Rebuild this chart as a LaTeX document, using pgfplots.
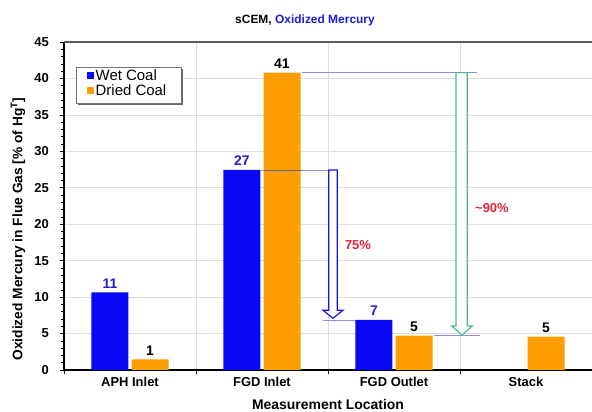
\documentclass[border=0pt]{standalone}
\usepackage{fontspec}
\setmainfont{Liberation Sans}
\usepackage{pgfplots}
\pgfplotsset{compat=1.18}
\definecolor{wetblue}{RGB}{8,8,245}
\definecolor{dryorange}{RGB}{255,158,0}
\definecolor{lblblue}{RGB}{30,30,210}
\definecolor{annred}{RGB}{225,35,55}
\definecolor{arrgreen}{RGB}{70,190,130}
\definecolor{arrblue}{RGB}{20,20,225}
\definecolor{guide}{RGB}{140,140,235}
\definecolor{gridgray}{RGB}{222,222,222}
\begin{document}
\begin{tikzpicture}
\useasboundingbox (0,0) rectangle (592bp,412bp);
\begin{axis}[
  at={(64bp,42bp)}, anchor=south west,
  scale only axis, width=528bp, height=328bp,
  xmin=-0.5, xmax=3.5, ymin=0, ymax=45,
  axis lines*=left,
  axis line style={line width=1.4bp, black},
  /pgf/number format/assume math mode=true,
  xtick={-0.5,0.5,1.5,2.5,3.5}, xticklabels={},
  extra x ticks={0,1,2,3},
  extra x tick labels={APH Inlet,FGD Inlet,FGD Outlet,Stack},
  extra x tick style={grid=none, major tick length=0pt, tick style={draw=none}},
  xmajorgrids, ymajorgrids,
  grid style={gridgray, line width=0.6bp},
  ytick={0,5,...,45}, minor y tick num=4,
  tick align=outside,
  major tick length=4bp, minor tick length=2.5bp,
  tick style={black, line width=0.6bp},
  xticklabel style={font=\bfseries\fontsize{13}{15}\selectfont, anchor=north, yshift=-3.5bp},
  yticklabel style={font=\bfseries\fontsize{13}{15}\selectfont, anchor=east, inner sep=0pt, xshift=-11bp},
  xlabel={Measurement Location},
  xlabel style={font=\bfseries\fontsize{14}{16}\selectfont, at={(axis description cs:0.5,-0.1067)}, anchor=center},
  ylabel={Oxidized Mercury in Flue Gas [\% of Hg\textsuperscript{T}]},
  ylabel style={font=\bfseries\fontsize{13.8}{15}\selectfont, at={(axis description cs:-0.0871,0.43)}, anchor=center},
  legend style={at={(0.0227,0.924)}, anchor=north west, draw=none, fill=none,
    font=\fontsize{15}{17}\selectfont, inner xsep=3bp, inner ysep=1.5bp, row sep=0bp,
    nodes={inner xsep=1.5bp, inner ysep=1.2bp}},
  legend cell align=left,
]
% guide lines
\addplot[guide, line width=0.7bp, forget plot] coordinates {(1.30,40.8) (2.63,40.8)};
\addplot[guide, line width=0.7bp, forget plot] coordinates {(0.99,27.44) (1.568,27.44)};
\addplot[guide, line width=0.7bp, forget plot] coordinates {(1.462,6.86) (1.712,6.86)};
\addplot[guide, line width=0.7bp, forget plot] coordinates {(2.303,4.71) (2.652,4.71)};
% bars
\addplot[ybar, fill=wetblue, draw=none, bar width=0.28, bar shift=-0.152,
  legend image code/.code={\path[draw=none, fill=none] (0bp,-4bp) rectangle (15bp,4bp); \fill[wetblue] (7.5bp,-3.5bp) rectangle (14.5bp,3.5bp);},
  nodes near coords={\pgfmathprintnumber[fixed,precision=0]{\pgfplotspointmeta}},
  every node near coord/.append style={font=\bfseries\fontsize{14}{16}\selectfont, text=lblblue, anchor=south, yshift=0.5bp, xshift=-20bp}]
  coordinates {(0,10.66) (1,27.44) (2,6.86)};
\addlegendentry{Wet Coal}
\addplot[ybar, fill=dryorange, draw=none, bar width=0.28, bar shift=0.152,
  legend image code/.code={\path[draw=none, fill=none] (0bp,-4bp) rectangle (15bp,4bp); \fill[dryorange] (7.5bp,-3.5bp) rectangle (14.5bp,3.5bp);},
  nodes near coords={\pgfmathprintnumber[fixed,precision=0]{\pgfplotspointmeta}},
  every node near coord/.append style={font=\bfseries\fontsize{14}{16}\selectfont, text=black, anchor=south, yshift=0.5bp, xshift=20bp}]
  coordinates {(0,1.47) (1,40.8) (2,4.71) (3,4.57)};
\addlegendentry{Dried Coal}
% guide across dried bar
\addplot[guide!70!black, line width=0.7bp, forget plot] coordinates {(1.012,27.44) (1.292,27.44)};
% block arrows
\addplot[draw=arrblue, fill=white, line width=1.2bp, forget plot] coordinates {
  (1.505,27.44) (1.505,8.2) (1.462,8.2) (1.538,7.1) (1.614,8.2) (1.570,8.2) (1.570,27.44) (1.505,27.44)};
\addplot[draw=arrgreen, fill=white, line width=1.2bp, forget plot] coordinates {
  (2.470,40.8) (2.470,6.04) (2.437,6.04) (2.515,4.8) (2.593,6.04) (2.555,6.04) (2.555,40.8) (2.470,40.8)};
\node[font=\bfseries\fontsize{13}{15}\selectfont, text=annred] at (axis cs:1.727,17.1) {75\%};
\node[font=\bfseries\fontsize{13}{15}\selectfont, text=annred] at (axis cs:2.742,22.2) {\textasciitilde90\%};
% legend frame with shadow
\fill[black!60] ([xshift=2bp,yshift=-2bp]rel axis cs:0.0227,0.9238) rectangle ([xshift=2bp,yshift=-2bp]rel axis cs:0.2216,0.814);
\draw[black!55, line width=0.6bp, fill=white] (rel axis cs:0.0227,0.9238) rectangle (rel axis cs:0.2216,0.814);
\draw[line width=1.5bp, black!65] (rel axis cs:0,1) -- (rel axis cs:1,1);
\end{axis}
\node[font=\bfseries\fontsize{12}{14}\selectfont] at (305bp,392bp) {sCEM, \textcolor{lblblue}{Oxidized Mercury}};
\end{tikzpicture}
\end{document}
